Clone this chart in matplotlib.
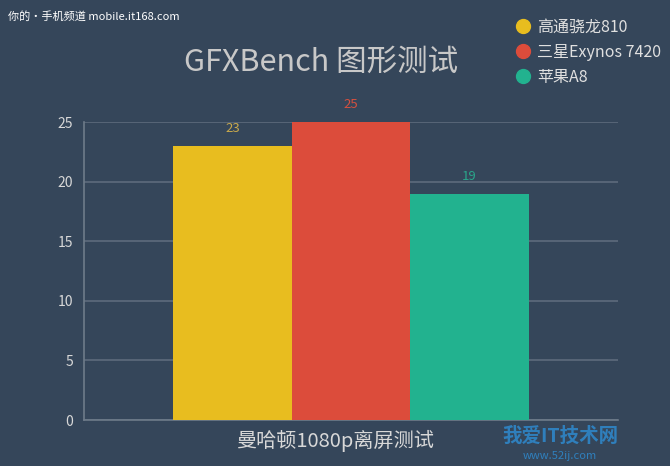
import matplotlib.pyplot as plt
from matplotlib.lines import Line2D

plt.rcParams['font.family'] = ['Noto Sans CJK SC', 'DejaVu Sans']

# dados
chips = ["高通骁龙810", "三星Exynos 7420", "苹果A8"]
scores = [23, 25, 19]
colors = ["#e8bd1f", "#dc4c3b", "#22b28f"]
label_colors = ["#c9a94c", "#d5503f", "#2aa58a"]
yticks = [0, 5, 10, 15, 20, 25]

bg = "#35465a"
fg = "#d8d8d8"

fig = plt.figure(figsize=(6.7, 4.66), dpi=100, facecolor=bg)
ax = fig.add_axes([84 / 670, 1 - 420 / 466, 534 / 670, 298 / 466], facecolor=bg)

x = list(range(len(chips)))
ax.bar(x, scores, width=1.0, color=colors, zorder=3)
for xi, s, c in zip(x, scores, label_colors):
    ax.text(xi, s + 0.9, str(s), ha="center", va="bottom", color=c, fontsize=9.5, zorder=4)

ax.set_xlim(1 - 2.255, 1 + 2.255)
ax.set_ylim(0, 25)
ax.set_yticks(yticks)
ax.set_xticks([])
ax.tick_params(axis="y", length=0, colors=fg, labelsize=10, pad=8)
ax.yaxis.grid(True, color="#5d6b7c", linewidth=1.2, zorder=1)
for side in ["top", "right"]:
    ax.spines[side].set_visible(False)
for side in ["left", "bottom"]:
    ax.spines[side].set_color("#6e7b8a")
    ax.spines[side].set_linewidth(1.2)

ax.set_xlabel("曼哈顿1080p离屏测试", color=fg, fontsize=14.5)
ax.xaxis.set_label_coords((336 - 84) / 534, -(441 - 420) / 298, transform=ax.transAxes)
ax.xaxis.label.set_va("center")
fig.text(321 / 670, 1 - 62 / 466, "GFXBench 图形测试", ha="center", va="center",
         color="#c8c8c8", fontsize=22)

handles = [Line2D([], [], marker="o", linestyle="", markersize=10, color=c) for c in colors]
leg = fig.legend(handles, chips, loc="upper left", bbox_to_anchor=(510 / 670, 1 - 19 / 466),
                 frameon=False, fontsize=11.5, handletextpad=0.1, labelspacing=0.5,
                 borderaxespad=0, borderpad=0, handlelength=1.6)
for t in leg.get_texts():
    t.set_color("#e0e0e0")

# marcas d'água
fig.text(8 / 670, 1 - 16 / 466, "你的•手机频道 mobile.it168.com", color="white",
         fontsize=8, va="center", ha="left")
fig.text(560 / 670, 1 - 436 / 466, "我爱IT技术网", color="#2f86c8", fontsize=14,
         ha="center", va="center", fontweight="bold", alpha=0.9)
fig.text(560 / 670, 1 - 456 / 466, "www.52ij.com", color="#2f86c8", fontsize=8,
         ha="center", va="center", alpha=0.9)

fig.savefig("out.png", dpi=100, facecolor=bg)
